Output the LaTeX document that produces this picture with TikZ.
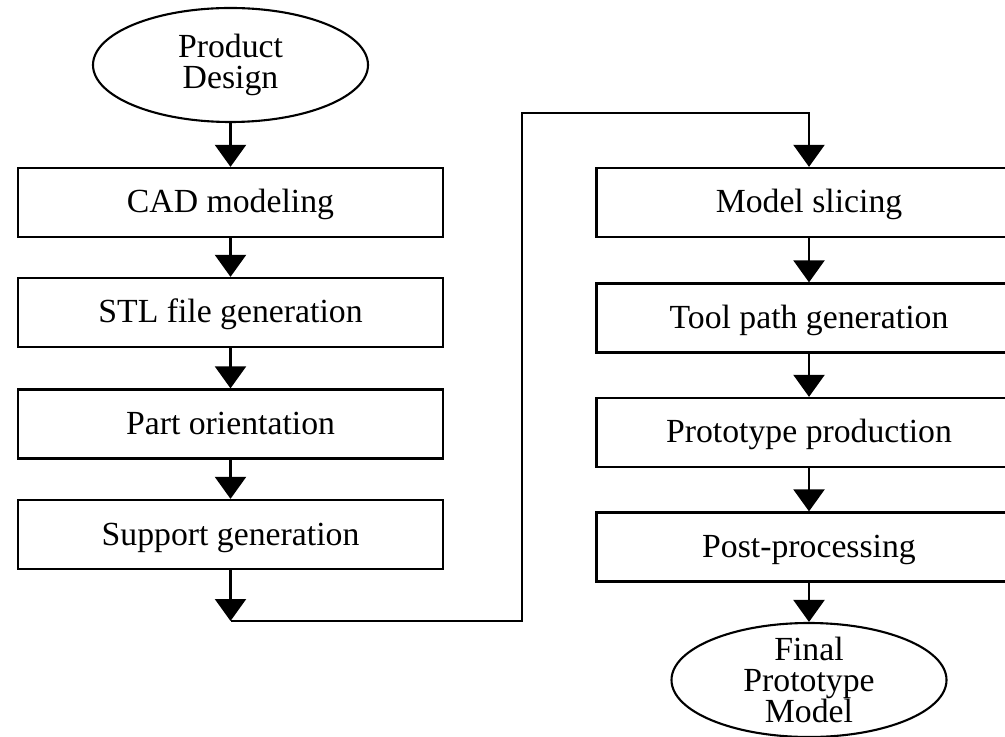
\documentclass[tikz,border=0pt]{standalone}
\usepackage{fontspec}
\setmainfont{Liberation Serif}
\usetikzlibrary{shapes.geometric,arrows.meta}

\begin{document}
\begin{tikzpicture}[
  font=\fontsize{19.2}{17.5}\selectfont,
  stepbox/.style={draw,line width=1.3pt,minimum width=8.5cm,minimum height=1.38cm,inner sep=0pt,text height=0.5cm,text depth=0.08cm},
  endbox/.style={draw,ellipse,line width=1.2pt,minimum width=5.5cm,minimum height=2.28cm,inner sep=-0.3cm,align=center},
  arr/.style={line width=1.3pt,-{Triangle[width=0.62cm,length=0.44cm]}}
]
\clip (0,0) rectangle (20.1,14.72);
% left column
\node[endbox] (pd) at (4.61,13.42) {Product\\Design};
\node[stepbox] (cad) at (4.61,10.67) {CAD modeling};
\node[stepbox] (stl) at (4.61,8.47) {STL file generation};
\node[stepbox] (po) at (4.61,6.24) {Part orientation};
\node[stepbox] (sg) at (4.61,4.03) {Support generation};
\coordinate (lo) at (4.61,2.30);
% right column
\node[stepbox] (ms) at (16.18,10.67) {Model slicing};
\node[stepbox] (tp) at (16.18,8.36) {Tool path generation};
\node[stepbox] (pp) at (16.18,6.07) {Prototype production};
\node[stepbox] (post) at (16.18,3.78) {Post-processing};
\node[endbox] (fpm) at (16.18,1.12) {Final\\Prototype\\Model};
\foreach \a/\b in {pd/cad,cad/stl,stl/po,po/sg,sg/lo,ms/tp,tp/pp,pp/post,post/fpm}{
  \draw[arr] (\a) -- (\b);
}
\draw[arr] (lo) -- (10.44,2.30) -- (10.44,12.46) -| (ms);
\end{tikzpicture}
\end{document}
